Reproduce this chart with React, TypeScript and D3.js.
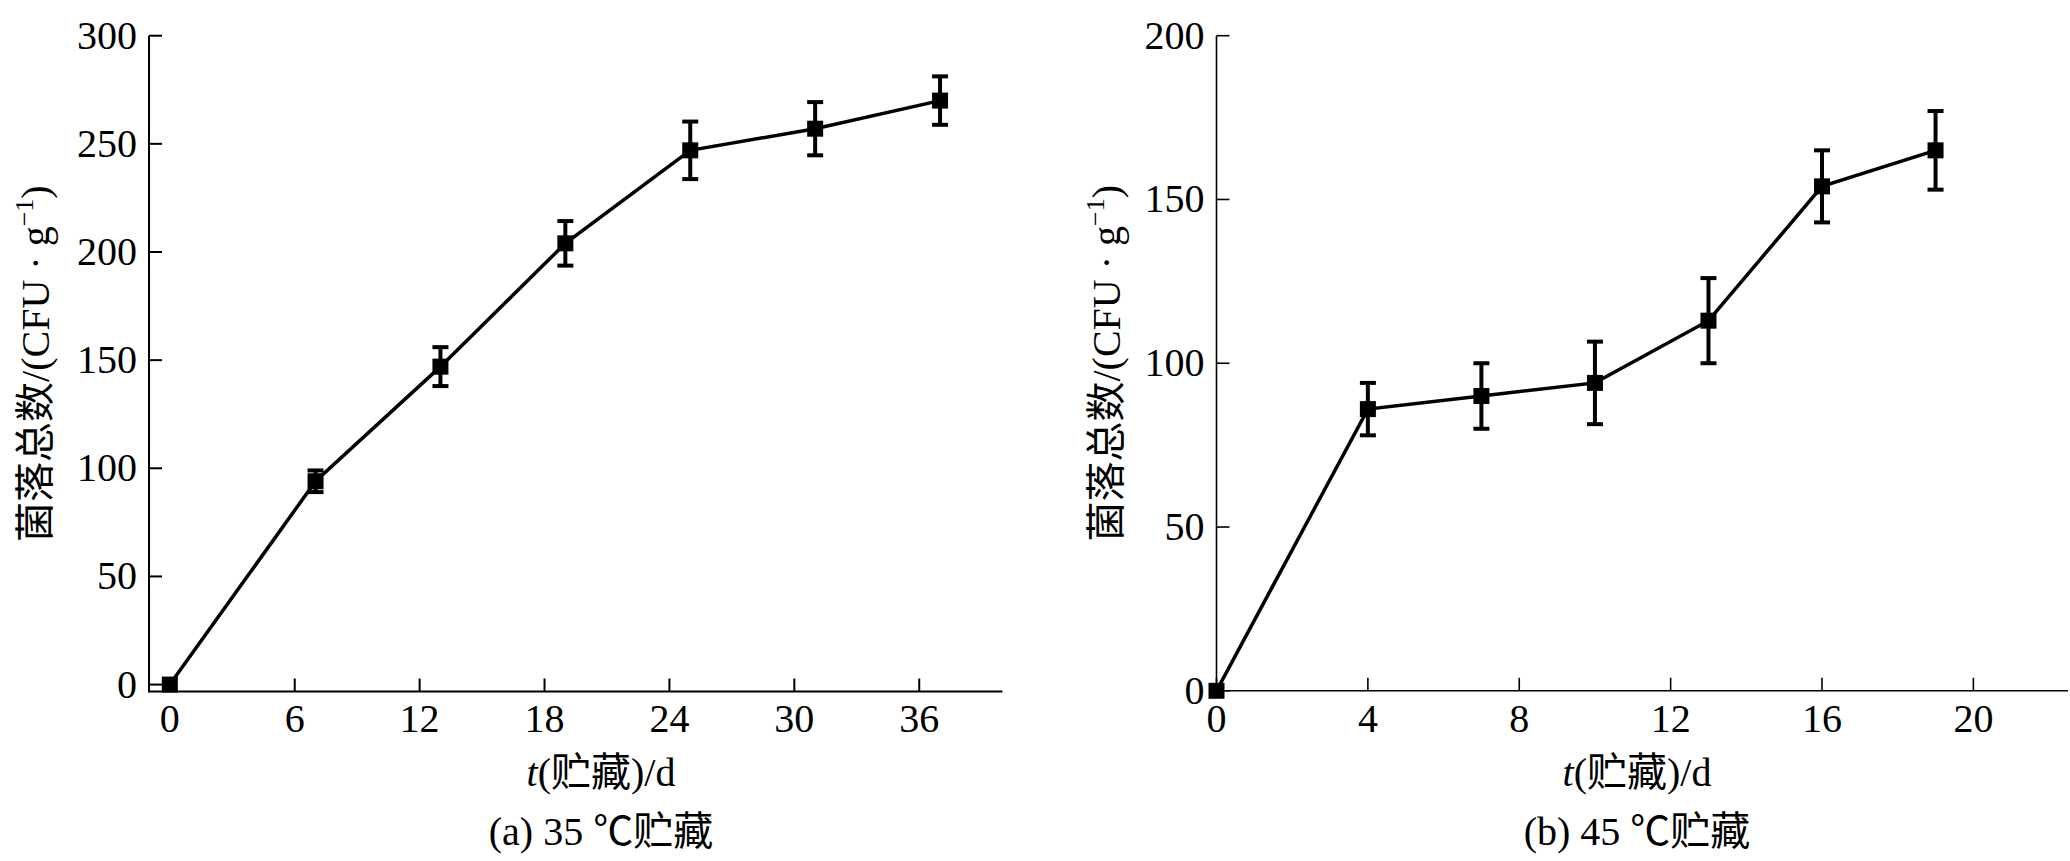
import React from "react";
import * as d3 from "d3";

// Panel (a): 35 ℃ storage
const daysA = [0, 7, 13, 19, 25, 31, 37];
const countA = [0, 94, 147, 204, 247, 257, 270];
const errA = [0, 5, 9, 10.3, 13.3, 12.3, 11.2];
const xTicksA = [0, 6, 12, 18, 24, 30, 36];
const yTicksA = [0, 50, 100, 150, 200, 250, 300];

// Panel (b): 45 ℃ storage
const daysB = [0, 4, 7, 10, 13, 16, 19];
const countB = [0, 86, 90, 94, 113, 154, 165];
const errB = [0, 8, 10, 12.6, 13, 11, 12];
const xTicksB = [0, 4, 8, 12, 16, 20];
const yTicksB = [0, 50, 100, 150, 200];

const yTitle = "菌落总数/(CFU · g";
const xTitleMain = "(贮藏)/d";
const captionA = "(a) 35 ℃贮藏";
const captionB = "(b) 45 ℃贮藏";

const FONT = "'Liberation Serif', 'Times New Roman', 'Noto Sans CJK SC', serif";

type PanelProps = {
  days: number[];
  counts: number[];
  errs: number[];
  xTicks: number[];
  yTicks: number[];
  xDomain: [number, number];
  xRange: [number, number];
  yDomain: [number, number];
  yRange: [number, number];
  axisW: number;
  titleX: number;
  labelX: number;
  caption: string;
};

function Panel(p: PanelProps) {
  const x = d3.scaleLinear().domain(p.xDomain).range(p.xRange);
  const y = d3.scaleLinear().domain(p.yDomain).range(p.yRange);
  const x0 = p.xRange[0];
  const y0 = p.yRange[0];
  const tick = 13;
  const pts = p.days.map((d, i) => [d, p.counts[i]] as [number, number]);
  const line = d3
    .line<[number, number]>()
    .x((d) => x(d[0]))
    .y((d) => y(d[1]));
  const ms = 16;
  const cap = 8;
  const yMid = (p.yRange[0] + p.yRange[1]) / 2;
  return (
    <g fontFamily={FONT} fill="#000">
      {/* axes */}
      <line x1={x0} x2={x0} y1={p.yRange[1]} y2={y0 + p.axisW / 2} stroke="#000" strokeWidth={p.axisW} />
      <line x1={x0} x2={p.xRange[1]} y1={y0} y2={y0} stroke="#000" strokeWidth={p.axisW} />
      {p.yTicks.map((t) => (
        <g key={"y" + t}>
          <line x1={x0} x2={x0 + tick} y1={y(t)} y2={y(t)} stroke="#000" strokeWidth={p.axisW} />
          <text x={x0 - 12} y={y(t) + 13} fontSize={40} textAnchor="end">
            {t}
          </text>
        </g>
      ))}
      {p.xTicks.map((t) => (
        <g key={"x" + t}>
          <line x1={x(t)} x2={x(t)} y1={y0} y2={y0 - tick} stroke="#000" strokeWidth={p.axisW} />
          <text x={x(t)} y={732} fontSize={40} textAnchor="middle">
            {t}
          </text>
        </g>
      ))}
      {/* data line */}
      <path d={line(pts) || ""} fill="none" stroke="#000" strokeWidth={3.5} strokeLinejoin="miter" />
      {/* error bars */}
      {pts.map((d, i) =>
        p.errs[i] > 0 ? (
          <g key={"e" + i} stroke="#000" strokeWidth={4}>
            <line x1={x(d[0])} x2={x(d[0])} y1={y(d[1] + p.errs[i])} y2={y(d[1] - p.errs[i])} />
            <line x1={x(d[0]) - cap} x2={x(d[0]) + cap} y1={y(d[1] + p.errs[i])} y2={y(d[1] + p.errs[i])} />
            <line x1={x(d[0]) - cap} x2={x(d[0]) + cap} y1={y(d[1] - p.errs[i])} y2={y(d[1] - p.errs[i])} />
          </g>
        ) : null
      )}
      {/* markers */}
      {pts.map((d, i) => (
        <rect key={"m" + i} x={x(d[0]) - ms / 2} y={y(d[1]) - ms / 2} width={ms} height={ms} fill="#000" />
      ))}
      {/* y title */}
      <text
        transform={`translate(${p.titleX},${yMid}) rotate(-90)`}
        fontSize={40}
        textAnchor="middle"
      >
        {yTitle}
        <tspan fontSize={26} dy={-16}>−1</tspan>
        <tspan dy={16}>)</tspan>
      </text>
      {/* x title */}
      <text x={p.labelX} y={786} fontSize={40} textAnchor="middle">
        <tspan fontStyle="italic">t</tspan>
        {xTitleMain}
      </text>
      <text x={p.labelX} y={845} fontSize={40} textAnchor="middle">
        {p.caption}
      </text>
    </g>
  );
}

export default function App() {
  return (
    <svg
      width={2070}
      height={861}
      viewBox="0 0 2070 861"
      style={{ position: "absolute", left: 0, top: 0, background: "#fff", display: "block" }}
    >
      <rect width={2070} height={861} fill="#fff" />
      <Panel
        days={daysA}
        counts={countA}
        errs={errA}
        xTicks={xTicksA}
        yTicks={yTicksA}
        xDomain={[-1, 40]}
        xRange={[149, 1002.5]}
        yDomain={[-3.2, 300]}
        yRange={[691.5, 35.7]}
        axisW={2}
        titleX={48.5}
        labelX={601}
        caption={captionA}
      />
      <Panel
        days={daysB}
        counts={countB}
        errs={errB}
        xTicks={xTicksB}
        yTicks={yTicksB}
        xDomain={[0, 22.5]}
        xRange={[1216.5, 2068]}
        yDomain={[0, 200]}
        yRange={[690.8, 35.7]}
        axisW={1.6}
        titleX={1119.5}
        labelX={1637}
        caption={captionB}
      />
    </svg>
  );
}
